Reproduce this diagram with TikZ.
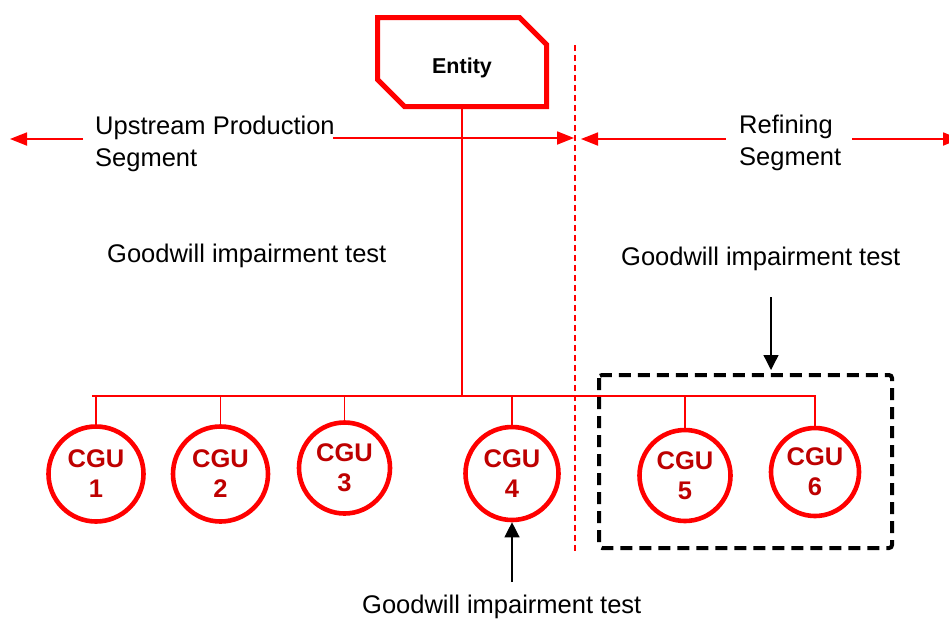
\documentclass[tikz,border=0pt]{standalone}
\usepackage{fontspec}
\setmainfont{Liberation Sans}
\usetikzlibrary{arrows.meta,shapes.misc}
\definecolor{cgured}{RGB}{255,0,0}
\definecolor{cgutext}{RGB}{190,0,0}
\tikzset{
  redline/.style={draw=cgured,line width=1.6pt},
  redarrow/.style={draw=cgured,line width=1.8pt,-{Triangle[length=17pt,width=13pt]},shorten >=0pt},
  blackarrow/.style={draw=black,line width=1.3pt,-{Triangle[length=15pt,width=15pt]}},
  cgunode/.style={circle,draw=cgured,line width=4.6pt,fill=white,inner sep=0pt,
    text=cgutext,align=center,font=\fontsize{25.5}{30}\selectfont\bfseries},
  entitybox/.style={chamfered rectangle,chamfered rectangle corners={north east,south west},
    chamfered rectangle sep=16pt,draw=cgured,line width=5pt,minimum width=169pt,minimum height=89pt,
    inner sep=0pt,text height=22pt,text depth=0pt,font=\fontsize{21.5}{26}\selectfont\bfseries},
  plaintext/.style={inner sep=0pt,font=\fontsize{25.5}{32}\selectfont,align=left},
  divider/.style={draw=cgured,line width=1.4pt,dash pattern=on 6pt off 4pt},
  groupbox/.style={draw=black,line width=4pt,dash pattern=on 12pt off 7pt,rounded corners=3pt}
}
\begin{document}
\begin{tikzpicture}[x=1pt,y=-1pt]
\useasboundingbox (0,0) rectangle (949,619);
% entity
\node[entitybox] (ent) at (462,62) {Entity};
% divider
\coordinate (dtop) at (575,45);
\coordinate (dbot) at (575,553);
\draw[divider] (dtop) -- (dbot);
% segment arrows
\coordinate (a1s) at (83,139);  \coordinate (a1e) at (10,139);
\coordinate (a2s) at (333,138); \coordinate (a2e) at (574,138);
\coordinate (a3s) at (726,139); \coordinate (a3e) at (581,139);
\coordinate (a4s) at (852,139); \coordinate (a4e) at (960,139);
\draw[redarrow] (a1s) -- (a1e);
\draw[redarrow] (a2s) -- (a2e);
\draw[redarrow] (a3s) -- (a3e);
\draw[redarrow] (a4s) -- (a4e);
% segment labels
\node[plaintext,anchor=north west] (ups) at (95,116) {Upstream Production\\Segment};
\node[plaintext,anchor=north west] (ref) at (739,115) {Refining\\Segment};
% goodwill labels
\node[plaintext,anchor=base west] (gw1) at (107,262) {Goodwill impairment test};
\node[plaintext,anchor=base west] (gw2) at (621,265) {Goodwill impairment test};
\node[plaintext,anchor=base west] (gw3) at (362,613) {Goodwill impairment test};
% group box
\coordinate (gbtl) at (599,375);
\coordinate (gbbr) at (892,548);
\draw[groupbox] (gbtl) rectangle (gbbr);
% bus
\coordinate (busL) at (92,396);
\coordinate (busR) at (816,396);
\draw[redline] (busL) -- (busR);
\draw[redline] (ent.south) -- (ent.south |- busL);
% CGUs
\node[cgunode,minimum size=95pt] (c1) at (96,474) {CGU\\1};
\node[cgunode,minimum size=95pt] (c2) at (220.5,474) {CGU\\2};
\node[cgunode,minimum size=91pt] (c3) at (344.5,468) {CGU\\3};
\node[cgunode,minimum size=93pt] (c4) at (512,473.5) {CGU\\4};
\node[cgunode,minimum size=91pt] (c5) at (685,475.5) {CGU\\5};
\node[cgunode,minimum size=88pt] (c6) at (815,472) {CGU\\6};
\foreach \c in {c1,c2,c3,c4,c5,c6}{
  \draw[redline] (\c.north) -- (\c.north |- busL);
}
% black arrows
\coordinate (ba1s) at (771,297);
\coordinate (ba1e) at (771,370);
\draw[blackarrow] (ba1s) -- (ba1e);
\coordinate (ba2s) at (512,582);
\draw[blackarrow] (ba2s) -- (c4.south);
\end{tikzpicture}
\end{document}
